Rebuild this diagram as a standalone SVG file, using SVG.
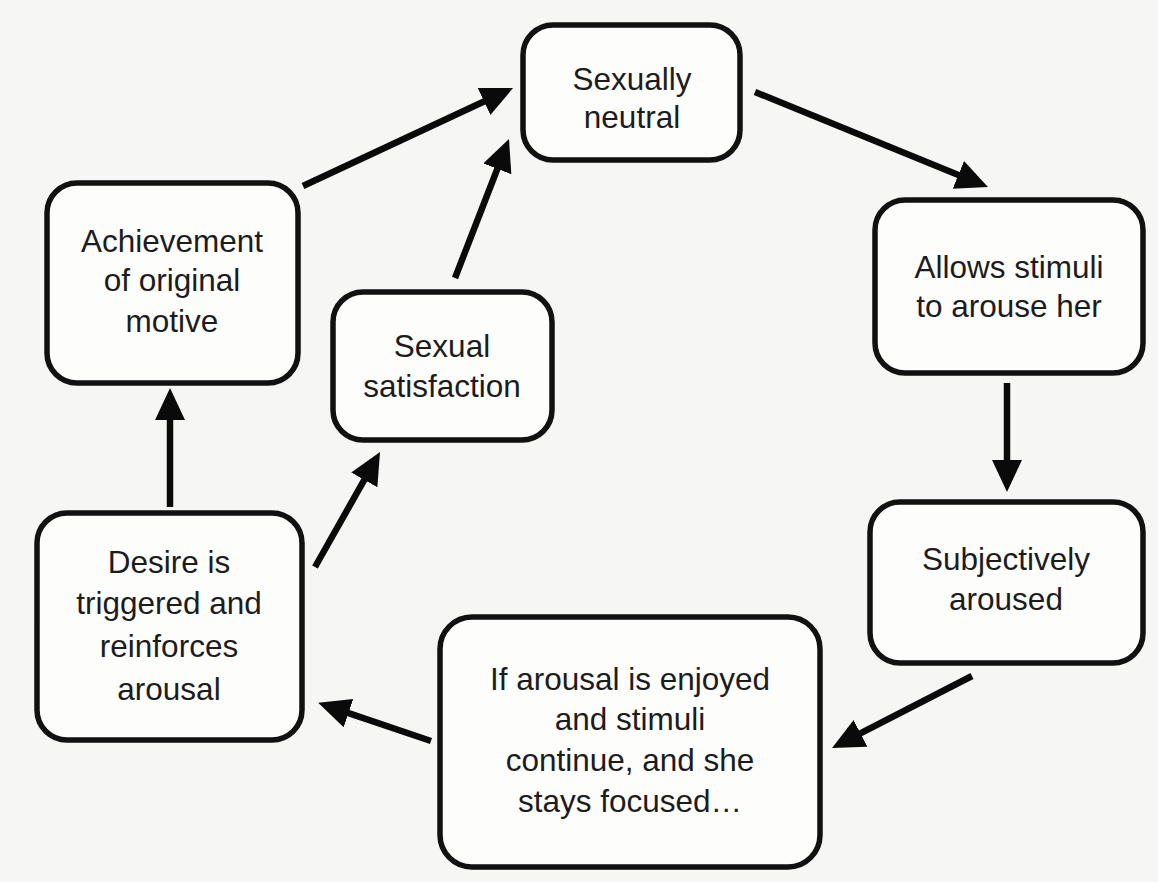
<svg xmlns="http://www.w3.org/2000/svg" width="1158" height="882" viewBox="0 0 1158 882">
<defs>
<style>
.box{fill:#fdfdfc;stroke:#111;stroke-width:5.5}
.lbl{font-family:"Liberation Sans",Arial,Helvetica,sans-serif;font-size:31.5px;fill:#1c1c1c;text-anchor:middle}
.arr{stroke:#0a0a0a;stroke-width:6.5;fill:none;marker-end:url(#ah)}
</style>
<marker id="ah" markerUnits="userSpaceOnUse" markerWidth="34" markerHeight="32" refX="10" refY="15" orient="auto">
<path d="M0,0 L32,15 L0,30 z" fill="#0a0a0a"/>
</marker>
</defs>
<rect width="1158" height="882" fill="#f6f6f4"/>
<g id="connectors">
<line class="arr" x1="303" y1="186" x2="493.1" y2="97.3"/>
<line class="arr" x1="455" y1="278" x2="501" y2="159.5"/>
<line class="arr" x1="755" y1="92" x2="967.6" y2="178.7"/>
<line class="arr" x1="1007" y1="383" x2="1007" y2="470"/>
<line class="arr" x1="972" y1="676" x2="851.6" y2="737.9"/>
<line class="arr" x1="431" y1="741" x2="339" y2="709.9"/>
<line class="arr" x1="170" y1="507" x2="170" y2="410"/>
<line class="arr" x1="315" y1="567" x2="369.2" y2="471.2"/>
</g>
<g id="sexually-neutral">
<rect class="box" x="523" y="25" width="217" height="135" rx="30"/>
<text class="lbl" x="632" y="90">Sexually</text>
<text class="lbl" x="632" y="128">neutral</text>
</g>
<g id="allows-stimuli">
<rect class="box" x="875" y="200" width="268" height="173" rx="30"/>
<text class="lbl" x="1009" y="278">Allows stimuli</text>
<text class="lbl" x="1009" y="317">to arouse her</text>
</g>
<g id="subjectively-aroused">
<rect class="box" x="870" y="502" width="273" height="161" rx="30"/>
<text class="lbl" x="1006" y="570">Subjectively</text>
<text class="lbl" x="1006" y="610">aroused</text>
</g>
<g id="if-arousal">
<rect class="box" x="440" y="617" width="380" height="250" rx="32"/>
<text class="lbl" x="630" y="690">If arousal is enjoyed</text>
<text class="lbl" x="630" y="730">and stimuli</text>
<text class="lbl" x="630" y="771">continue, and she</text>
<text class="lbl" x="630" y="812">stays focused…</text>
</g>
<g id="desire">
<rect class="box" x="37" y="513" width="265" height="227" rx="30"/>
<text class="lbl" x="169" y="573">Desire is</text>
<text class="lbl" x="169" y="614">triggered and</text>
<text class="lbl" x="169" y="657">reinforces</text>
<text class="lbl" x="169" y="700">arousal</text>
</g>
<g id="achievement">
<rect class="box" x="47" y="183" width="251" height="200" rx="30"/>
<text class="lbl" x="172" y="252">Achievement</text>
<text class="lbl" x="172" y="291">of original</text>
<text class="lbl" x="172" y="332">motive</text>
</g>
<g id="sexual-satisfaction">
<rect class="box" x="333" y="292" width="219" height="148" rx="30"/>
<text class="lbl" x="442" y="357">Sexual</text>
<text class="lbl" x="442" y="397">satisfaction</text>
</g>
</svg>
